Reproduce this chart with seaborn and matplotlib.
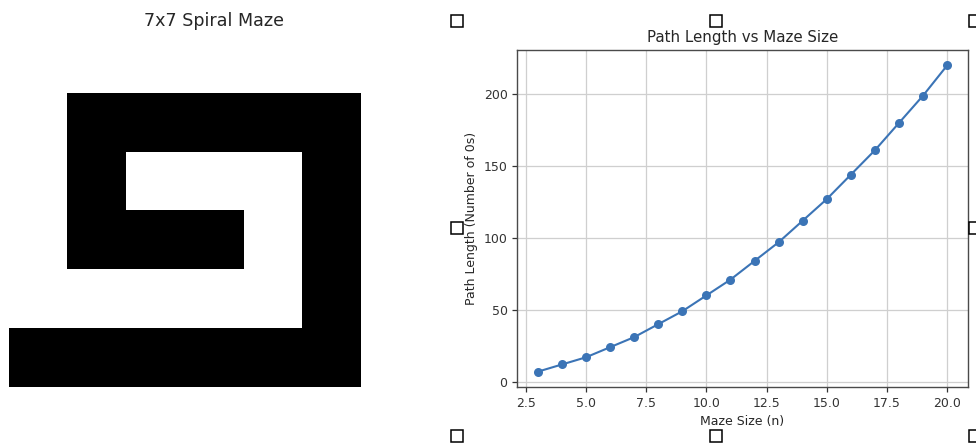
import numpy as np
import pandas as pd
import matplotlib
matplotlib.use("Agg")
import matplotlib.pyplot as plt
from matplotlib.lines import Line2D
import seaborn as sns

# 7x7 spiral maze: 1 = wall (black), 0 = open path (white)
maze_rows = [
    [0, 0, 0, 0, 0, 0, 0],
    [0, 1, 1, 1, 1, 1, 0],
    [0, 1, 0, 0, 0, 1, 0],
    [0, 1, 1, 1, 0, 1, 0],
    [0, 0, 0, 0, 0, 1, 0],
    [1, 1, 1, 1, 1, 1, 0],
    [0, 0, 0, 0, 0, 0, 0],
]

# Path length (count of zeros) for each maze size
maze_sizes = [3, 4, 5, 6, 7, 8, 9, 10, 11, 12, 13, 14, 15, 16, 17, 18, 19, 20]
path_lengths = [7, 12, 17, 24, 31, 40, 49, 60, 71, 84, 97, 112, 127, 144, 161, 180, 199, 220]

maze_title = "7x7 Spiral Maze"
line_title = "Path Length vs Maze Size"
x_label = "Maze Size (n)"
y_label = "Path Length (Number of 0s)"

sns.set_style("ticks", {
    "axes.edgecolor": "#4a4a4a",
    "grid.color": "#cfcfcf",
    "text.color": "#262626",
    "xtick.color": "#333333",
    "ytick.color": "#333333",
})
plt.rcParams["font.family"] = ["DejaVu Sans"]
plt.rcParams["font.size"] = 9

W, H = 976, 443
fig = plt.figure(figsize=(W / 100, H / 100), dpi=100)

# Left panel: the maze grid
ax1 = fig.add_axes([8.6 / W, 1 - 445.5 / H, 411.1 / W, 411.6 / H])
sns.heatmap(np.array(maze_rows), cmap="binary", vmin=0, vmax=1, cbar=False,
            square=True, xticklabels=False, yticklabels=False, ax=ax1)
ax1.axis("off")
ax1.set_title(maze_title, fontsize=12.6, color="#262626")

# Right panel: path length growth
ax2 = fig.add_axes([517.3 / W, 1 - 387 / H, 450.4 / W, 337 / H])
df = pd.DataFrame({"size": maze_sizes, "length": path_lengths})
sns.lineplot(data=df, x="size", y="length", marker="o", color="#3b74b6",
             linewidth=1.5, markersize=6.5, markeredgewidth=0, ax=ax2)
ax2.grid(True, color="#cfcfcf", linewidth=0.9)
for s in ax2.spines.values():
    s.set_linewidth(1.0)
    s.set_visible(True)
ax2.tick_params(labelsize=9, length=3.5, width=0.9)
ax2.set_title(line_title, fontsize=10.8)
ax2.set_xlabel(x_label, fontsize=9)
ax2.set_ylabel(y_label, fontsize=9)

# Resize handles framing the right panel
handle_x = [457, 716, 975]
handle_y = [21, 228, 436]
for hy in handle_y:
    for hx in handle_x:
        if hx == 716 and hy == 228:
            continue
        fig.add_artist(Line2D([hx / W], [1 - hy / H], transform=fig.transFigure,
                              marker="s", markersize=8.6, markerfacecolor="white",
                              markeredgecolor="black", markeredgewidth=1.1,
                              linestyle="none", zorder=10))

fig.savefig("out.png", dpi=100)
